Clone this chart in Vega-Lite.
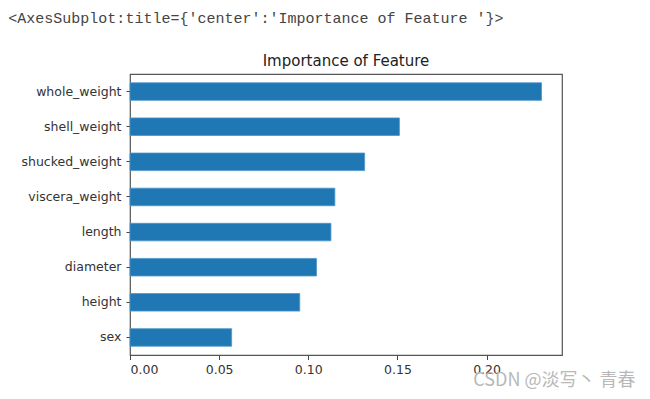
{
  "$schema": "https://vega.github.io/schema/vega-lite/v6.json",
  "background": "white",
  "autosize": {"type": "pad"},
  "padding": {"left": 8, "top": 11, "right": 5, "bottom": 5},
  "title": {
    "text": "<AxesSubplot:title={'center':'Importance of Feature '}>",
    "anchor": "start",
    "frame": "bounds",
    "font": "Liberation Mono",
    "fontSize": 15,
    "fontWeight": "normal",
    "color": "#444",
    "dx": -12,
    "offset": 27
  },
  "config": {
    "font": "DejaVu Sans",
    "view": {"stroke": "#555", "strokeWidth": 1.2}
  },
  "vconcat": [
    {
      "width": 432,
      "height": 281,
      "title": {
        "text": "Importance of Feature",
        "font": "DejaVu Sans",
        "fontSize": 15,
        "fontWeight": "normal",
        "color": "#222",
        "anchor": "middle",
        "offset": 5
      },
      "data": {
        "values": [
          {"feature": "whole_weight", "importance": 0.2308},
          {"feature": "shell_weight", "importance": 0.1511},
          {"feature": "shucked_weight", "importance": 0.1316},
          {"feature": "viscera_weight", "importance": 0.1149},
          {"feature": "length", "importance": 0.1127},
          {"feature": "diameter", "importance": 0.1046},
          {"feature": "height", "importance": 0.0952},
          {"feature": "sex", "importance": 0.0570}
        ]
      },
      "mark": {"type": "bar", "color": "#1f77b4", "stroke": "#4f95c9", "strokeWidth": 0.8},
      "encoding": {
        "y": {
          "field": "feature",
          "type": "nominal",
          "sort": "-x",
          "scale": {"paddingInner": 0.5, "paddingOuter": 0.25},
          "axis": {
            "title": null,
            "domain": false,
            "ticks": true,
            "tickSize": 4,
            "tickColor": "#444",
            "labelFont": "DejaVu Sans",
            "labelFontSize": 12.5,
            "labelColor": "#333",
            "labelPadding": 5
          }
        },
        "x": {
          "field": "importance",
          "type": "quantitative",
          "scale": {"domain": [0, 0.2423], "nice": false, "zero": true},
          "axis": {
            "values": [0, 0.05, 0.1, 0.15, 0.2],
            "format": ".2f",
            "grid": false,
            "domain": false,
            "tickSize": 4.5,
            "tickColor": "#444",
            "labelFont": "DejaVu Sans",
            "labelFontSize": 12.5,
            "labelColor": "#333",
            "labelPadding": 4,
            "title": "CSDN @淡写丶  青春",
            "titleFont": "Noto Sans CJK SC",
            "titleFontSize": 18,
            "titleFontWeight": "normal",
            "titleColor": "#b8b8b8",
            "titleAlign": "right",
            "titleAnchor": "end",
            "titleBaseline": "alphabetic",
            "titleX": 505,
            "titleY": 30
          }
        }
      }
    }
  ]
}
